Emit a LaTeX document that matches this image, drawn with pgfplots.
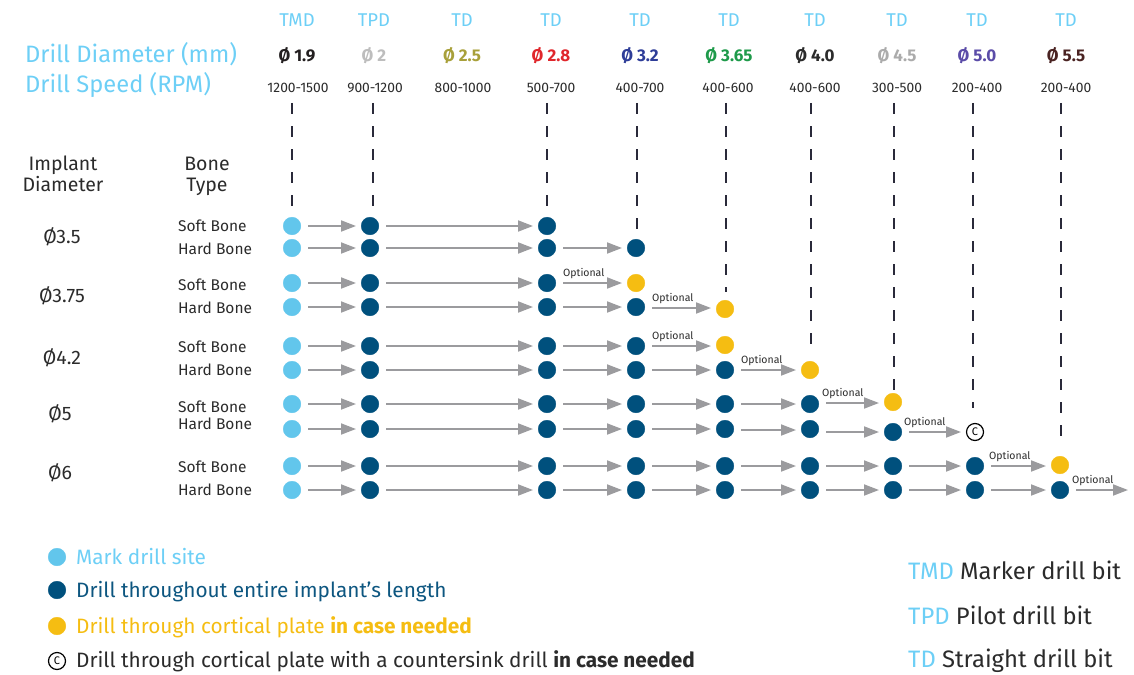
\documentclass[border=0pt]{standalone}
\usepackage{pgfplots}
\pgfplotsset{compat=1.18}
\usepackage{pgfplotstable}
\usetikzlibrary{arrows.meta}
\usepackage{fontspec}
\setmainfont{Fira Sans}

\definecolor{hdr}{HTML}{6DCFF6}
\definecolor{ltblue}{HTML}{62C6EC}
\definecolor{dkblue}{HTML}{00507D}
\definecolor{dktext}{HTML}{0D5680}
\definecolor{yel}{HTML}{F5BD12}
\definecolor{arr}{HTML}{9B9B9E}
\definecolor{txt}{HTML}{2B2B2B}
\definecolor{dashc}{HTML}{2A2A3A}
\definecolor{dA}{HTML}{231F20}
\definecolor{dB}{HTML}{BDBDBD}
\definecolor{dC}{HTML}{A8A03A}
\definecolor{dD}{HTML}{E0262B}
\definecolor{dE}{HTML}{2E3D98}
\definecolor{dF}{HTML}{1E9A4A}
\definecolor{dG}{HTML}{2B2B2B}
\definecolor{dH}{HTML}{ABABAB}
\definecolor{dI}{HTML}{5B4CA8}
\definecolor{dJ}{HTML}{4A2322}

% light blue marker drill dots
\pgfplotstableread{
x y
292 226
292 248
292 283
292 307
292 346
292 370
292 404
292 429
292 466
292 490
57 557
}\lightdots

% dark blue drill dots
\pgfplotstableread{
x y
370 226
547 226
370 248
547 248
636 248
370 283
547 283
370 307
547 307
636 307
370 346
547 346
636 346
370 370
547 370
636 370
725 370
370 404
547 404
636 404
725 404
810 404
370 429
547 429
636 429
725 429
810 429
893 432
370 466
547 466
636 466
725 466
810 466
893 466
975 466
370 490
547 490
636 490
725 490
810 490
893 490
975 490
1060 490
57 590
}\darkdots

% yellow (cortical plate) dots
\pgfplotstableread{
x y
636 283
725 309
725 345
810 370
893 402
1060 465
57 626
}\yellowdots

% countersink
\pgfplotstableread{
x y
975 432
57 661
}\csinkdots

% arrows: start x, y, length
\pgfplotstableread{
x y u v
308 226 48 0
386 226 147 0
308 248 48 0
386 248 147 0
563 248 59 0
308 283 48 0
386 283 147 0
563 283 59 0
308 307 48 0
386 307 147 0
563 307 59 0
652 308 59 0
308 346 48 0
386 346 147 0
563 346 59 0
652 346 59 0
308 370 48 0
386 370 147 0
563 370 59 0
652 370 59 0
741 370 55 0
308 404 48 0
386 404 147 0
563 404 59 0
652 404 59 0
741 404 55 0
826 403 53 0
308 429 48 0
386 429 147 0
563 429 59 0
652 429 59 0
741 430 55 0
826 432 53 0
909 432 52 0
308 466 48 0
386 466 147 0
563 466 59 0
652 466 59 0
741 466 55 0
826 466 53 0
909 466 52 0
991 466 55 0
308 490 48 0
386 490 147 0
563 490 59 0
652 490 59 0
741 490 55 0
826 490 53 0
909 490 52 0
991 490 55 0
1076 490 52 0
}\arrowtab

\begin{document}
\begin{tikzpicture}
\useasboundingbox (0,0) rectangle (1134pt,674pt);
\begin{axis}[at={(0,0)}, anchor=south west,
    width=1134pt, height=674pt, scale only axis,
    xmin=0, xmax=1134, ymin=0, ymax=674, y dir=reverse,
    hide axis, clip=false]

% dashed guide lines
\pgfplotsset{guide/.style={dashc, line width=1.3pt, dash pattern=on 11pt off 12pt}}
\addplot[guide] coordinates {(292,103) (292,206)};
\addplot[guide] coordinates {(373,103) (373,206)};
\addplot[guide] coordinates {(547,103) (547,206)};
\addplot[guide] coordinates {(637,103) (637,264)};
\addplot[guide] coordinates {(726,103) (726,292)};
\addplot[guide] coordinates {(811,103) (811,356)};
\addplot[guide] coordinates {(894,103) (894,390)};
\addplot[guide] coordinates {(973,103) (973,408)};
\addplot[guide] coordinates {(1061,103) (1061,446)};

% arrows
\addplot[arr, line width=1.8pt, -{Triangle[length=15pt,width=11pt]},
    quiver={u=\thisrow{u}, v=\thisrow{v}}] table {\arrowtab};

% dots
\addplot[only marks, mark=*, mark size=8.8pt, ltblue, mark options={draw=none,fill=ltblue}] table {\lightdots};
\addplot[only marks, mark=*, mark size=8.8pt, dkblue, mark options={draw=none,fill=dkblue}] table {\darkdots};
\addplot[only marks, mark=*, mark size=8.8pt, yel, mark options={draw=none,fill=yel}] table {\yellowdots};
\addplot[only marks, mark=o, mark size=8.5pt, black, mark options={line width=1.2pt,fill=white}] table {\csinkdots};

\node[font=\fontsize{11}{11}\selectfont] at (axis cs:975,432) {C};
\node[font=\fontsize{11}{11}\selectfont] at (axis cs:57,661) {C};

% Optional labels
\tikzset{opt/.style={anchor=south west, inner sep=0pt, text=txt, font=\fontsize{10.5}{10}\selectfont}}
\node[opt] at (axis cs:563,279) {Optional};
\node[opt] at (axis cs:652,304) {Optional};
\node[opt] at (axis cs:652,342) {Optional};
\node[opt] at (axis cs:741,366) {Optional};
\node[opt] at (axis cs:822,399) {Optional};
\node[opt] at (axis cs:904,428) {Optional};
\node[opt] at (axis cs:989,462) {Optional};
\node[opt] at (axis cs:1072,486) {Optional};

% header
\tikzset{hd/.style={anchor=base, text=hdr, font=\fontsize{18.5}{19}\selectfont},
         dm/.style={anchor=base, font=\bfseries\fontsize{17}{17}\selectfont},
         rp/.style={anchor=base, text=txt, font=\fontsize{13.8}{14}\selectfont}}
\node[hd] at (axis cs:297,27) {TMD};
\node[hd] at (axis cs:374,27) {TPD};
\node[hd] at (axis cs:462,27) {TD};
\node[hd] at (axis cs:551,27) {TD};
\node[hd] at (axis cs:640,27) {TD};
\node[hd] at (axis cs:729,27) {TD};
\node[hd] at (axis cs:815,27) {TD};
\node[hd] at (axis cs:897,27) {TD};
\node[hd] at (axis cs:977,27) {TD};
\node[hd] at (axis cs:1066,27) {TD};

\node[dm,text=dA] at (axis cs:297,62) {Ø 1.9};
\node[dm,text=dB] at (axis cs:374,62) {Ø 2};
\node[dm,text=dC] at (axis cs:462,62) {Ø 2.5};
\node[dm,text=dD] at (axis cs:551,62) {Ø 2.8};
\node[dm,text=dE] at (axis cs:640,62) {Ø 3.2};
\node[dm,text=dF] at (axis cs:729,62) {Ø 3.65};
\node[dm,text=dG] at (axis cs:815,62) {Ø 4.0};
\node[dm,text=dH] at (axis cs:897,62) {Ø 4.5};
\node[dm,text=dI] at (axis cs:977,62) {Ø 5.0};
\node[dm,text=dJ] at (axis cs:1066,62) {Ø 5.5};

\node[rp] at (axis cs:298,93) {1200-1500};
\node[rp] at (axis cs:375,93) {900-1200};
\node[rp] at (axis cs:463,93) {800-1000};
\node[rp] at (axis cs:551,93) {500-700};
\node[rp] at (axis cs:640,93) {400-700};
\node[rp] at (axis cs:728,93) {400-600};
\node[rp] at (axis cs:815,93) {400-600};
\node[rp] at (axis cs:897,93) {300-500};
\node[rp] at (axis cs:977,93) {200-400};
\node[rp] at (axis cs:1066,93) {200-400};

\node[anchor=base west, inner sep=0pt, text=hdr, font=\fontsize{23.7}{24}\selectfont] at (axis cs:25,63) {Drill Diameter (mm)};
\node[anchor=base west, inner sep=0pt, text=hdr, font=\fontsize{23.7}{24}\selectfont] at (axis cs:25,93) {Drill Speed (RPM)};

% left labels
\tikzset{cl/.style={anchor=base, text=txt, font=\fontsize{19.5}{20}\selectfont},
         bn/.style={anchor=west, inner sep=0pt, text=txt, font=\fontsize{15.5}{16}\selectfont}}
\node[cl] at (axis cs:63,170) {Implant};
\node[cl] at (axis cs:63,191) {Diameter};
\node[cl] at (axis cs:207,170) {Bone};
\node[cl] at (axis cs:207,191) {Type};
\node[cl] at (axis cs:62,243) {Ø3.5};
\node[cl] at (axis cs:62,302) {Ø3.75};
\node[cl] at (axis cs:62,364) {Ø4.2};
\node[cl] at (axis cs:60,420) {Ø5};
\node[cl] at (axis cs:60,479) {Ø6};

\node[bn] at (axis cs:178,226) {Soft Bone};
\node[bn] at (axis cs:178,249) {Hard Bone};
\node[bn] at (axis cs:178,285) {Soft Bone};
\node[bn] at (axis cs:178,308) {Hard Bone};
\node[bn] at (axis cs:178,347) {Soft Bone};
\node[bn] at (axis cs:178,370) {Hard Bone};
\node[bn] at (axis cs:178,407) {Soft Bone};
\node[bn] at (axis cs:178,424) {Hard Bone};
\node[bn] at (axis cs:178,467) {Soft Bone};
\node[bn] at (axis cs:178,490) {Hard Bone};

% legends
\tikzset{lg/.style={anchor=base west, inner sep=0pt, font=\fontsize{20.8}{21}\selectfont},
         rg/.style={anchor=base west, inner sep=0pt, text=txt, font=\fontsize{23.8}{24}\selectfont}}
\node[lg, text=hdr] at (axis cs:76,564) {Mark drill site};
\node[lg, text=dktext] at (axis cs:76,597) {Drill throughout entire implant’s length};
\node[lg, text=yel] at (axis cs:76,633) {Drill through cortical plate \textbf{in case needed}};
\node[lg, text=txt] at (axis cs:76,667) {Drill through cortical plate with a countersink drill \textbf{in case needed}};

\node[rg] at (axis cs:908,579) {\textcolor{hdr}{TMD} Marker drill bit};
\node[rg] at (axis cs:908,624) {\textcolor{hdr}{TPD} Pilot drill bit};
\node[rg] at (axis cs:908,667) {\textcolor{hdr}{TD} Straight drill bit};
\end{axis}
\end{tikzpicture}
\end{document}
